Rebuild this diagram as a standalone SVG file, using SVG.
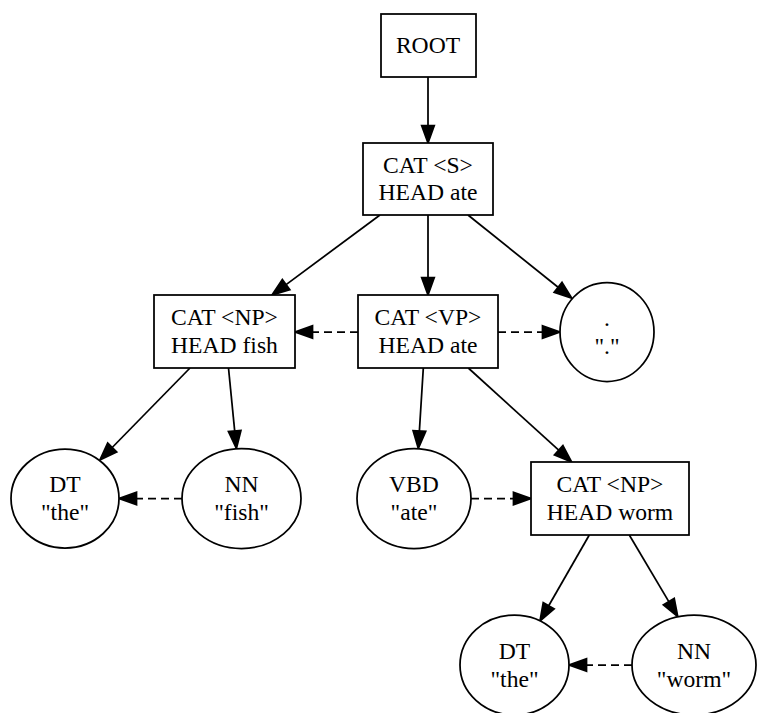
<svg xmlns="http://www.w3.org/2000/svg" width="769" height="713" viewBox="0 0 769 713">
  <style>
    .box { fill: #ffffff; stroke: #000000; stroke-width: 1.75; }
    .ell { fill: #ffffff; stroke: #000000; stroke-width: 1.75; }
    text { font-family: 'Liberation Serif', 'Times New Roman', Times, serif; font-size: 23.6px; fill: #000000; text-anchor: middle; }
    .edge { fill: none; stroke: #000000; stroke-width: 1.75; marker-end: url(#head); }
    .dash { stroke-dasharray: 8 5; }
  </style>
  <defs>
    <marker id="head" markerUnits="userSpaceOnUse" orient="auto" refX="0" refY="0" markerWidth="20" markerHeight="16" overflow="visible">
      <path d="M0,-6.3 L17.5,0 L0,6.3 Z" fill="#000000" stroke="#000000" stroke-width="1.75" stroke-dasharray="none"/>
    </marker>
  </defs>
  <rect width="769" height="713" fill="#ffffff"/>

  <!-- connectors: each line stops at the arrowhead base -->
  <g id="edges">
    <path class="edge" d="M428,77 L428,125.5"/>
    <path class="edge" d="M380,215 L286.1,284.6"/>
    <path class="edge" d="M428,215 L428,277.5"/>
    <path class="edge" d="M468,215 L558.1,287.3"/>
    <path class="edge dash" d="M358,332 L312.5,332"/>
    <path class="edge dash" d="M498,332 L542.5,332"/>
    <path class="edge" d="M190,368 L112.2,447.5"/>
    <path class="edge" d="M228.5,368 L234.7,431"/>
    <path class="edge" d="M423.3,368 L419.4,431"/>
    <path class="edge" d="M468.3,368 L558.7,450.2"/>
    <path class="edge dash" d="M182,498.5 L136.5,498.5"/>
    <path class="edge dash" d="M471,498.5 L513.5,498.5"/>
    <path class="edge" d="M589.3,535 L548.7,605.8"/>
    <path class="edge" d="M629.3,535 L668.8,601.6"/>
    <path class="edge dash" d="M632,665 L586.5,665"/>
  </g>

  <g id="root">
    <rect class="box" x="381" y="14" width="95" height="63"/>
    <text x="428" y="53.3">ROOT</text>
  </g>
  <g id="s">
    <rect class="box" x="363" y="143" width="130" height="72"/>
    <text x="428" y="172.7">CAT &lt;S&gt;</text>
    <text x="428" y="200.3">HEAD ate</text>
  </g>
  <g id="np-fish">
    <rect class="box" x="154" y="295" width="141" height="73"/>
    <text x="224.5" y="325.2">CAT &lt;NP&gt;</text>
    <text x="224.5" y="353">HEAD fish</text>
  </g>
  <g id="vp">
    <rect class="box" x="358" y="295" width="140" height="73"/>
    <text x="428" y="325.2">CAT &lt;VP&gt;</text>
    <text x="428" y="353">HEAD ate</text>
  </g>
  <g id="period">
    <ellipse class="ell" cx="607" cy="332" rx="47" ry="49.5"/>
    <text x="607" y="325.5">.</text>
    <text x="607" y="353.5">"."</text>
  </g>
  <g id="dt-fish">
    <ellipse class="ell" cx="65" cy="498.5" rx="54" ry="49.5"/>
    <text x="65" y="492">DT</text>
    <text x="65" y="520">"the"</text>
  </g>
  <g id="nn-fish">
    <ellipse class="ell" cx="241.5" cy="498.5" rx="59.5" ry="50"/>
    <text x="241.5" y="492">NN</text>
    <text x="241.5" y="520">"fish"</text>
  </g>
  <g id="vbd">
    <ellipse class="ell" cx="414" cy="498.5" rx="57" ry="50"/>
    <text x="414" y="492">VBD</text>
    <text x="414" y="520">"ate"</text>
  </g>
  <g id="np-worm">
    <rect class="box" x="531" y="462" width="158" height="73"/>
    <text x="610" y="492.2">CAT &lt;NP&gt;</text>
    <text x="610" y="520">HEAD worm</text>
  </g>
  <g id="dt-worm">
    <ellipse class="ell" cx="514.5" cy="665" rx="54.5" ry="50"/>
    <text x="514.5" y="658.5">DT</text>
    <text x="514.5" y="686.5">"the"</text>
  </g>
  <g id="nn-worm">
    <ellipse class="ell" cx="694" cy="665" rx="62" ry="50"/>
    <text x="694" y="658.5">NN</text>
    <text x="694" y="686.5">"worm"</text>
  </g>
</svg>
